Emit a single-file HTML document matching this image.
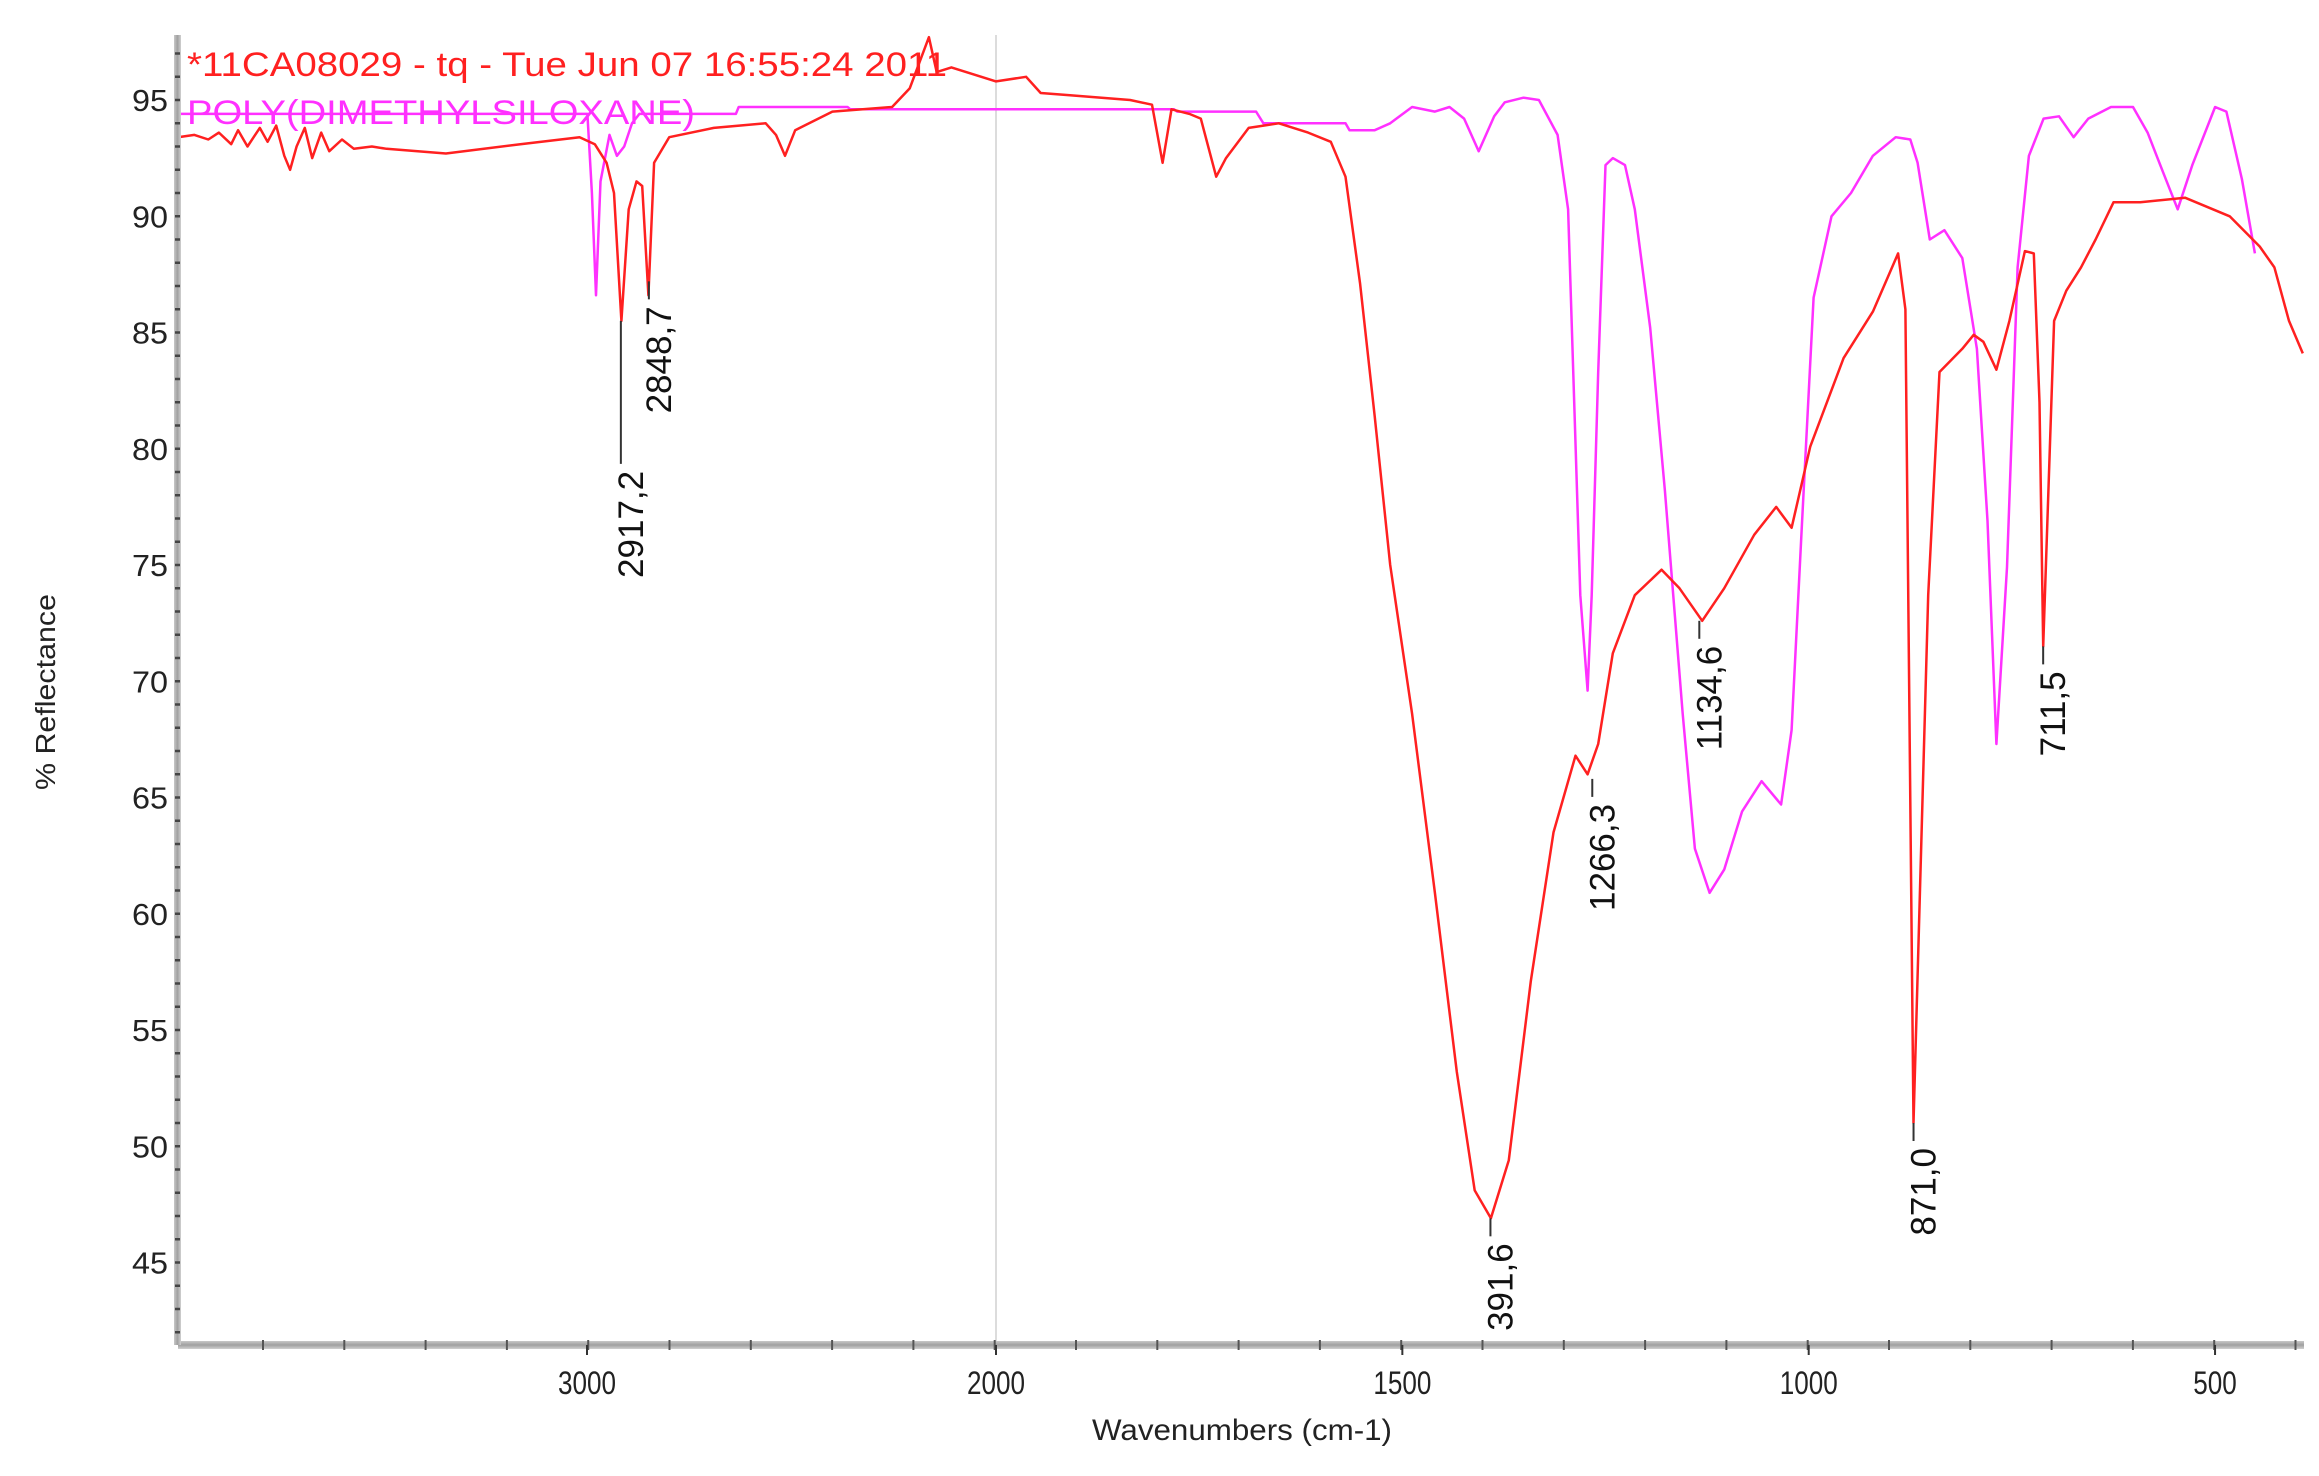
<!DOCTYPE html>
<html><head><meta charset="utf-8"><style>
html,body{margin:0;padding:0;background:#fff;}
svg{display:block;}
text{font-family:"Liberation Sans",sans-serif;}
</style></head><body>
<svg id="chart" width="2319" height="1476" viewBox="0 0 2319 1476" xmlns="http://www.w3.org/2000/svg">
<defs><linearGradient id="axg" x1="0" y1="0" x2="0" y2="1"><stop offset="0" stop-color="#c8c8c8"/><stop offset="0.5" stop-color="#a0a0a0"/><stop offset="1" stop-color="#d0d0d0"/></linearGradient>
<linearGradient id="ayg" x1="0" y1="0" x2="1" y2="0"><stop offset="0" stop-color="#c8c8c8"/><stop offset="0.5" stop-color="#a0a0a0"/><stop offset="1" stop-color="#d0d0d0"/></linearGradient></defs>
<g id="grid"></g>
<g id="series"></g>
<g id="axes"></g>
<g id="labels"></g>
</svg>
<script>
const xTicks=[3000,2000,1500,1000,500];
const yTicks=[45,50,55,60,65,70,75,80,85,90,95];
const sampleWn=[4000,3960,3926,3900,3870,3853,3830,3800,3781,3760,3740,3726,3710,3690,3672,3650,3630,3599,3570,3526,3490,3345,3163,3018,2981,2952,2934,2916,2898,2879,2865,2850,2836,2799,2690,2563,2538,2516,2491,2400,2254,2211,2164,2145,2109,2036,2000,1963,1945,1909,1835,1808,1795,1784,1762,1748,1729,1717,1689,1652,1616,1588,1570,1552,1534,1515,1488,1460,1433,1411,1391,1369,1342,1314,1287,1272,1259,1241,1214,1181,1159,1131,1104,1067,1040,1021,998,957,921,890,881,871,853,839,811,797,785,769,753,734,723,716,711.5,698,683,665,647,625,592,537,482,445,427,409,392];
const sampleVal=[93.4,93.5,93.3,93.6,93.1,93.7,93.0,93.8,93.2,93.9,92.6,92.0,93.0,93.8,92.5,93.6,92.8,93.3,92.9,93.0,92.9,92.7,93.1,93.4,93.1,92.3,91.0,85.5,90.3,91.5,91.3,86.6,92.3,93.4,93.8,94.0,93.5,92.6,93.7,94.5,94.7,95.5,97.7,96.2,96.4,96.0,95.8,96.0,95.3,95.2,95.0,94.8,92.3,94.6,94.4,94.2,91.7,92.5,93.8,94.0,93.6,93.2,91.7,87.1,81.4,75.0,68.6,60.9,53.2,48.1,46.9,49.4,57.1,63.5,66.8,66.0,67.3,71.2,73.7,74.8,74.0,72.6,74.0,76.3,77.5,76.6,80.1,83.9,85.9,88.4,86.0,51.0,73.7,83.3,84.3,84.9,84.6,83.4,85.5,88.5,88.4,82.0,71.5,85.5,86.8,87.8,89.0,90.6,90.6,90.8,90.0,88.7,87.8,85.5,84.1];
const refWn=[4000,2999,2988,2978,2967,2945,2927,2909,2890,2872,2636,2629,2363,2356,1781,1777,1680,1671,1570,1565,1534,1515,1488,1460,1442,1424,1406,1387,1374,1351,1332,1309,1296,1281,1272,1267,1259,1250,1241,1226,1214,1195,1177,1155,1140,1122,1104,1082,1058,1034,1021,1009,994,972,948,921,893,875,866,851,833,811,793,780,769,756,743,729,711,692,674,656,628,601,583,564,546,528,500,486,467,451];
const refVal=[94.4,94.4,91.0,86.6,91.5,93.5,92.6,93.0,94.0,94.4,94.4,94.7,94.7,94.6,94.6,94.5,94.5,94.0,94.0,93.7,93.7,94.0,94.7,94.5,94.7,94.2,92.8,94.3,94.9,95.1,95.0,93.5,90.3,73.7,69.6,73.7,83.3,92.2,92.5,92.2,90.3,85.2,78.2,68.6,62.8,60.9,61.9,64.4,65.7,64.7,67.9,76.3,86.5,90.0,91.0,92.6,93.4,93.3,92.3,89.0,89.4,88.2,84.3,76.9,67.3,74.9,87.8,92.6,94.2,94.3,93.4,94.2,94.7,94.7,93.6,91.9,90.3,92.2,94.7,94.5,91.6,88.4];
const peakWn=[2917.2,2848.7,1391.6,1266.3,1134.6,871.0,711.5];
const peakText=["2917,2","2848,7","391,6","1266,3","1134,6","871,0","711,5"];
const peakVal=[85.5,87.2,46.9,65.8,72.6,51.0,71.5];

const NS="http://www.w3.org/2000/svg";
const L=178,R=2304,T=35,B=1345;
function xs(w){return w>=2000?996-(w-2000)*0.409:996+(2000-w)*0.8127;}
function ys(v){return 100+(95-v)*23.25;}
function mk(tag,attrs,parent,txt){const e=document.createElementNS(NS,tag);for(const k in attrs)e.setAttribute(k,attrs[k]);if(txt!==undefined)e.textContent=txt;parent.appendChild(e);return e;}
const grid=document.getElementById('grid'),series=document.getElementById('series'),axes=document.getElementById('axes'),labels=document.getElementById('labels');

const gl=mk('line',{x1:xs(2000),x2:xs(2000),y1:T,y2:B,stroke:'#dcdcdc','stroke-width':2},grid);



function path(wn,val,color,name){let d='';for(let i=0;i<wn.length;i++){d+=(i?'L':'M')+xs(wn[i]).toFixed(1)+','+ys(val[i]).toFixed(1);}
const p=mk('path',{d:d,fill:'none',stroke:color,'stroke-width':2.5,'stroke-linejoin':'round'},series);

}
path(refWn,refVal,'#ff30ff','pdms-reference-line');
path(sampleWn,sampleVal,'#ff2020','sample-spectrum-line');

const ax=mk('rect',{x:L,y:B-4,width:R-L,height:8,fill:'url(#axg)'},axes);


const ay=mk('rect',{x:L-4,y:T,width:7,height:B-T,fill:'url(#ayg)'},axes);


for(let p=L+85;p<R;p+=81.3){const t=mk('line',{x1:p,x2:p,y1:B-5,y2:B+5,stroke:'#555','stroke-width':2},axes);}
for(let v=42;v<=97;v++){const t=mk('line',{x1:L-3,x2:L+2,y1:ys(v),y2:ys(v),stroke:'#444','stroke-width':2.5},axes);}
xTicks.forEach(w=>{const s=String(w);const t=mk('text',{x:xs(w),y:1394,'font-size':32,'text-anchor':'middle',fill:'#222',textLength:s.length*14.5,lengthAdjust:'spacingAndGlyphs'},labels,s);
const k=mk('line',{x1:xs(w),x2:xs(w),y1:B,y2:B+10,stroke:'#333','stroke-width':2},axes);});
yTicks.forEach(v=>{const t=mk('text',{x:168,y:ys(v)+11,'font-size':31,'text-anchor':'end',fill:'#222',textLength:36,lengthAdjust:'spacingAndGlyphs'},labels,String(v));});

peakWn.forEach((w,i)=>{const x=xs(w),y=ys(peakVal[i]);
const ln=mk('line',{x1:x,x2:x,y1:y,y2:y+(i==0?143:18),stroke:'#333','stroke-width':2},labels);


const ty=y+(i==0?150:25);const tx=x+22;
const t=mk('text',{x:tx,y:ty,'font-size':35,fill:'#111','text-anchor':'end',transform:'rotate(-90 '+tx+' '+ty+')'},labels,peakText[i]);

});

const t1=mk('text',{x:187,y:76,'font-size':34,fill:'#ff2020',textLength:760,lengthAdjust:'spacingAndGlyphs'},labels,'*11CA08029 - tq - Tue Jun 07 16:55:24 2011');


const t2=mk('text',{x:187,y:124,'font-size':34,fill:'#ff30ff',textLength:508,lengthAdjust:'spacingAndGlyphs'},labels,'POLY(DIMETHYLSILOXANE)');


const xt=mk('text',{x:1242,y:1440,'font-size':30,'text-anchor':'middle',fill:'#222',textLength:300,lengthAdjust:'spacingAndGlyphs'},labels,'Wavenumbers (cm-1)');


const yt=mk('text',{x:55,y:692,'font-size':28,'text-anchor':'middle',fill:'#222',transform:'rotate(-90 55 692)',textLength:196,lengthAdjust:'spacingAndGlyphs'},labels,'% Reflectance');


</script>
</body></html>
